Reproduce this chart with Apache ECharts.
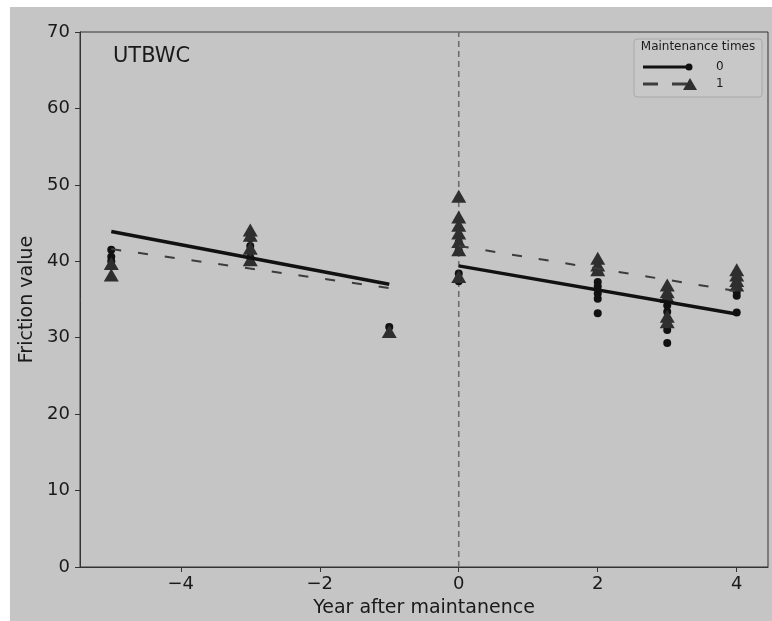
<!DOCTYPE html>
<html>
<head>
<meta charset="utf-8">
<script src="https://cdn.jsdelivr.net/npm/echarts@6/dist/echarts.min.js"></script>
<style>
    html, body { margin: 0; padding: 0; background: #ffffff; }
    #chart { position: absolute; left: 10px; top: 7px; width: 762px; height: 614px; }
</style>
</head>
<body>
<div id="chart"></div>
<script>
// 数据
var years = [-5, -3, -1, 0, 2, 3, 4];
// 维护次数 0（圆点）
var friction0 = [
    [41.5, 40.6, 40.0],
    [43.0, 42.0, 40.5],
    [31.4],
    [42.5, 41.4, 38.4, 37.4],
    [37.3, 36.7, 35.8, 35.1, 33.2],
    [34.2, 33.4, 31.0, 29.3],
    [36.0, 35.5, 33.3]
];
// 维护次数 1（三角）
var friction1 = [
    [39.7, 38.2],
    [44.1, 43.4, 41.7, 40.2],
    [30.8],
    [48.5, 45.8, 44.7, 43.7, 42.6, 41.5, 38.0],
    [40.4, 39.5, 38.9],
    [36.9, 36.0, 35.4, 32.8, 32.1],
    [38.9, 38.2, 37.5, 36.9]
];
// 拟合线
var preYears = [-5, -1];
var postYears = [0, 4];
var fit0Pre = [43.9, 37.0];
var fit1Pre = [41.6, 36.5];
var fit0Post = [39.4, 33.1];
var fit1Post = [42.0, 36.1];
var xTicks = [-4, -2, 0, 2, 4];

function points(groups) {
    var out = [];
    groups.forEach(function (vals, i) {
        vals.forEach(function (v) { out.push([years[i], v]); });
    });
    return out;
}
function pairs(xs, ys) {
    return xs.map(function (x, i) { return [x, ys[i]]; });
}

(function () {
    var myChart = echarts.init(document.getElementById("chart"));
    var font = "DejaVu Sans";
    var solid = { width: 3.5, color: "#111111" };
    var dashed = { width: 2, color: "#3c3c3c", type: [10, 17] };
    var option = {
        backgroundColor: "#c5c5c5",
        animation: false,
        textStyle: { fontFamily: font },
        grid: {
            left: 70, right: 4, top: 25, bottom: 54,
            containLabel: false,
            outerBoundsMode: "none",
            show: true, borderColor: "#333333", borderWidth: 1
        },
        xAxis: {
            type: "value",
            min: -5.45,
            max: 4.45,
            name: "Year after maintanence",
            nameLocation: "middle",
            nameGap: 32,
            nameTextStyle: { fontSize: 19, color: "#1a1a1a", fontFamily: font },
            axisLine: { show: true, onZero: false, lineStyle: { color: "#333333" } },
            axisTick: { show: true, length: 5, customValues: xTicks, lineStyle: { color: "#333333" } },
            axisLabel: {
                customValues: xTicks,
                margin: 8,
                fontSize: 18,
                color: "#1a1a1a",
                fontFamily: font,
                formatter: function (v) { return String(v).replace("-", "\u2212"); }
            },
            splitLine: { show: false }
        },
        yAxis: {
            type: "value",
            min: 0,
            max: 70,
            interval: 10,
            name: "Friction value",
            nameLocation: "middle",
            nameGap: 40,
            nameTextStyle: { fontSize: 19, color: "#1a1a1a", fontFamily: font },
            axisLine: { show: true, onZero: false, lineStyle: { color: "#333333" } },
            axisTick: { show: true, length: 5, lineStyle: { color: "#333333" } },
            axisLabel: { margin: 10, fontSize: 18, color: "#1a1a1a", fontFamily: font },
            splitLine: { show: false }
        },
        series: [
            {
                type: "line",
                data: [[0, 0], [0, 70]],
                showSymbol: false,
                lineStyle: { width: 1.6, color: "#6e6e6e", type: [6, 4] },
                z: 1
            },
            {
                name: "0",
                type: "scatter",
                data: points(friction0),
                symbol: "circle",
                symbolSize: 8,
                itemStyle: { color: "#111111", opacity: 1 },
                z: 2
            },
            {
                name: "1",
                type: "scatter",
                data: points(friction1),
                symbol: "triangle",
                symbolSize: [15, 13],
                itemStyle: { color: "#2f2f2f", opacity: 1 },
                z: 3
            },
            { type: "line", data: pairs(preYears, fit0Pre), showSymbol: false, lineStyle: solid, z: 4 },
            { type: "line", data: pairs(postYears, fit0Post), showSymbol: false, lineStyle: solid, z: 4 },
            { type: "line", data: pairs(preYears, fit1Pre), showSymbol: false, lineStyle: dashed, z: 4 },
            { type: "line", data: pairs(postYears, fit1Post), showSymbol: false, lineStyle: dashed, z: 4 }
        ],
        graphic: [
            {
                type: "text", left: 103, top: 39,
                style: { text: "UTBWC", font: "21px DejaVu Sans", fill: "#1a1a1a" }
            },
            // 图例
            {
                type: "rect", shape: { x: 624, y: 32, width: 128, height: 58, r: 3 },
                style: { fill: "#c8c8c8", stroke: "#a8a8a8", lineWidth: 1 }, z: 10
            },
            {
                type: "text", x: 688, y: 40, z: 11,
                style: { text: "Maintenance times", font: "12px DejaVu Sans", fill: "#1a1a1a", align: "center", verticalAlign: "middle" }
            },
            {
                type: "line", shape: { x1: 633, y1: 60, x2: 679, y2: 60 }, z: 11,
                style: { stroke: "#111111", lineWidth: 3 }
            },
            {
                type: "circle", shape: { cx: 679, cy: 60, r: 3.5 }, z: 11,
                style: { fill: "#111111" }
            },
            {
                type: "text", x: 706, y: 60, z: 11,
                style: { text: "0", font: "12px DejaVu Sans", fill: "#1a1a1a", verticalAlign: "middle" }
            },
            {
                type: "line", shape: { x1: 633, y1: 77, x2: 679, y2: 77 }, z: 11,
                style: { stroke: "#3c3c3c", lineWidth: 3, lineDash: [15, 14] }
            },
            {
                type: "polygon", shape: { points: [[673, 83], [687, 83], [680, 71]] }, z: 11,
                style: { fill: "#2f2f2f" }
            },
            {
                type: "text", x: 706, y: 77, z: 11,
                style: { text: "1", font: "12px DejaVu Sans", fill: "#1a1a1a", verticalAlign: "middle" }
            }
        ]
    };
    myChart.setOption(option);
})();
</script>
</body>
</html>
